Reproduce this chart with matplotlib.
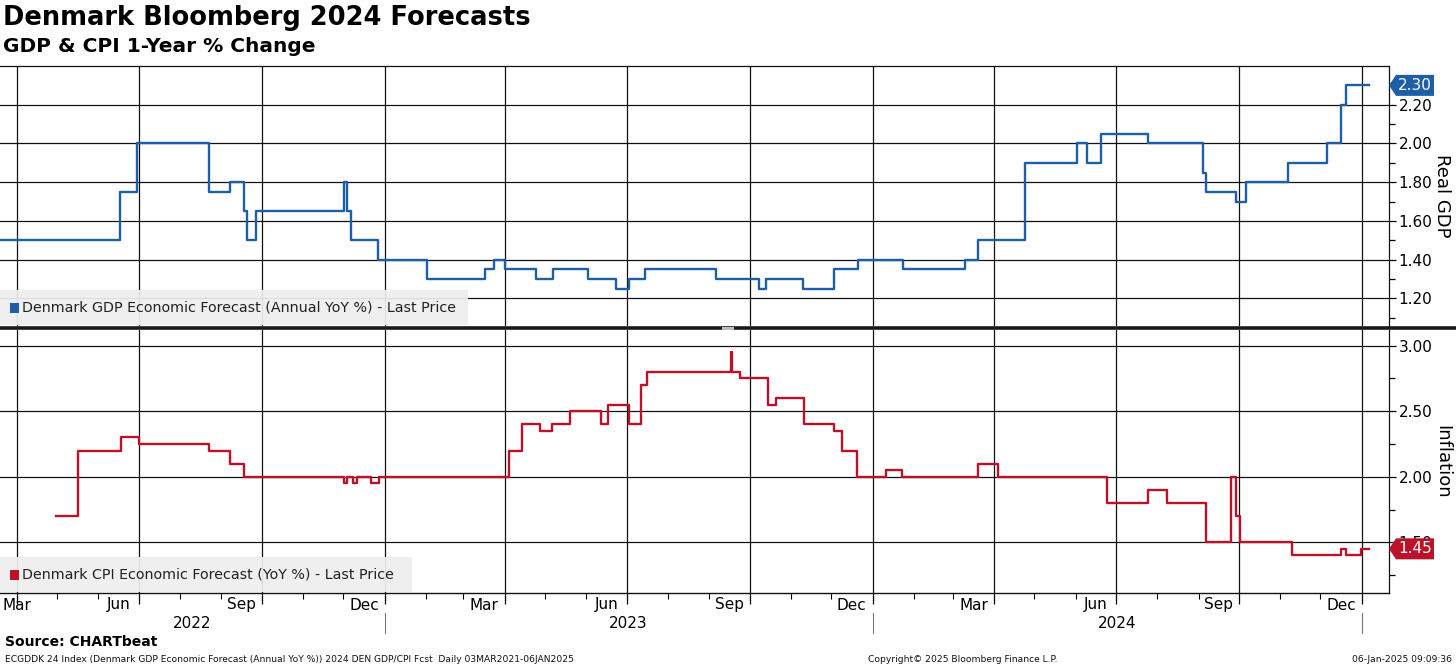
import matplotlib
matplotlib.use('Agg')
import matplotlib.pyplot as plt
import matplotlib.dates as mdates
import pandas as pd
from matplotlib.lines import Line2D
from matplotlib.patches import Rectangle, Polygon

# ---------------- data ----------------
gdp_dates = ['2022-03-01', '2022-06-17', '2022-06-30', '2022-08-23', '2022-09-07', '2022-09-18',
             '2022-09-20', '2022-09-27', '2022-12-02', '2022-12-04', '2022-12-07', '2022-12-27',
             '2023-02-02', '2023-03-17', '2023-03-24', '2023-04-01', '2023-04-24', '2023-05-07',
             '2023-06-02', '2023-06-23', '2023-07-03', '2023-07-15', '2023-09-06', '2023-10-08',
             '2023-10-13', '2023-11-10', '2023-12-03', '2023-12-21', '2024-01-24', '2024-03-10',
             '2024-03-20', '2024-04-24', '2024-06-02', '2024-06-09', '2024-06-20', '2024-07-25',
             '2024-09-04', '2024-09-06', '2024-09-29', '2024-10-06', '2024-11-07', '2024-12-06',
             '2024-12-16', '2024-12-20', '2025-01-06']
gdp_values = [1.50, 1.75, 2.00, 1.75, 1.80, 1.65,
              1.50, 1.65, 1.80, 1.65, 1.50, 1.40,
              1.30, 1.35, 1.40, 1.35, 1.30, 1.35,
              1.30, 1.25, 1.30, 1.35, 1.30, 1.25,
              1.30, 1.25, 1.35, 1.40, 1.35, 1.40,
              1.50, 1.90, 2.00, 1.90, 2.05, 2.00,
              1.85, 1.75, 1.70, 1.80, 1.90, 2.00,
              2.20, 2.30, 2.30]

cpi_dates = ['2022-04-30', '2022-05-17', '2022-06-18', '2022-07-01', '2022-08-23', '2022-09-07',
             '2022-09-18', '2022-12-02', '2022-12-04', '2022-12-08', '2022-12-11', '2022-12-22',
             '2022-12-28', '2023-04-04', '2023-04-14', '2023-04-27', '2023-05-06', '2023-05-20',
             '2023-06-12', '2023-06-17', '2023-07-03', '2023-07-12', '2023-07-16', '2023-09-17',
             '2023-09-18', '2023-09-24', '2023-10-15', '2023-10-21', '2023-11-11', '2023-12-03',
             '2023-12-09', '2023-12-20', '2024-01-11', '2024-01-23', '2024-03-20', '2024-04-04',
             '2024-06-24', '2024-07-25', '2024-08-08', '2024-09-06', '2024-09-25', '2024-09-29',
             '2024-10-02', '2024-11-10', '2024-12-16', '2024-12-20', '2024-12-31', '2025-01-06']
cpi_values = [1.70, 2.20, 2.30, 2.25, 2.20, 2.10,
              2.00, 1.95, 2.00, 1.95, 2.00, 1.95,
              2.00, 2.20, 2.40, 2.35, 2.40, 2.50,
              2.40, 2.55, 2.40, 2.70, 2.80, 2.95,
              2.80, 2.75, 2.55, 2.60, 2.40, 2.35,
              2.20, 2.00, 2.05, 2.00, 2.10, 2.00,
              1.80, 1.90, 1.80, 1.50, 2.00, 1.70,
              1.50, 1.40, 1.45, 1.40, 1.45, 1.45]

gdp_ticks = [1.20, 1.40, 1.60, 1.80, 2.00, 2.20]
cpi_ticks = [1.50, 2.00, 2.50, 3.00]
month_label_months = [3, 6, 9, 12]
years = [2022, 2023, 2024]

title = 'Denmark Bloomberg 2024 Forecasts'
subtitle = 'GDP & CPI 1-Year % Change'
gdp_legend = 'Denmark GDP Economic Forecast (Annual YoY %) - Last Price'
cpi_legend = 'Denmark CPI Economic Forecast (YoY %) - Last Price'
source = 'Source: CHARTbeat'
footer_left = 'ECGDDK 24 Index (Denmark GDP Economic Forecast (Annual YoY %)) 2024 DEN GDP/CPI Fcst  Daily 03MAR2021-06JAN2025'
footer_mid = 'Copyright\u00a9 2025 Bloomberg Finance L.P.'
footer_right = '06-Jan-2025 09:09:36'

BLUE = '#1d5ea6'
RED = '#bc1229'

# ---------------- layout ----------------
W, H = 1456, 666
plt.rcParams['font.family'] = ['DejaVu Sans']
fig = plt.figure(figsize=(W / 100, H / 100), dpi=100)


def fx(px):
    return px / W


def fy(py):
    return 1 - py / H


AX_R = 1389
ax1 = fig.add_axes([0, fy(326), fx(AX_R), fy(66) - fy(326)])
ax2 = fig.add_axes([0, fy(593), fx(AX_R), fy(330) - fy(593)], sharex=ax1)

xmin = pd.Timestamp('2022-03-19 08:00')
xmax = pd.Timestamp('2025-01-21 06:00')

gd = pd.to_datetime(gdp_dates)
cd = pd.to_datetime(cpi_dates)

ax1.plot(gd, gdp_values, drawstyle='steps-post', color=BLUE, lw=1.7, zorder=3)
ax2.plot(cd, cpi_values, drawstyle='steps-post', color=RED, lw=1.7, zorder=3)

ax1.set_xlim(xmin, xmax)
ax1.set_ylim(1.058, 2.40)
ax2.set_ylim(1.113, 3.12)

for ax in (ax1, ax2):
    ax.xaxis.set_major_locator(mdates.MonthLocator(bymonth=[1, 4, 7, 10]))
    ax.xaxis.set_minor_locator(mdates.MonthLocator())
    ax.grid(True, which='major', axis='both', color='#111111', lw=0.9, zorder=1)
    ax.yaxis.tick_right()
    ax.tick_params(axis='y', which='both', direction='out', right=True, left=False,
                   labelsize=11, pad=2, width=0.9)
    ax.tick_params(axis='y', which='major', length=5)
    ax.tick_params(axis='y', which='minor', length=4)
    ax.spines['left'].set_visible(False)
    ax.spines['right'].set_color('#111111')
    ax.spines['right'].set_linewidth(0.9)
    ax.set_facecolor('white')

ax1.set_yticks(gdp_ticks)
ax1.set_yticklabels([f'{v:.2f}' for v in gdp_ticks])
ax1.set_yticks([v + 0.10 for v in gdp_ticks] + [gdp_ticks[0] - 0.10], minor=True)
ax2.set_yticks(cpi_ticks)
ax2.set_yticklabels([f'{v:.2f}' for v in cpi_ticks])
ax2.set_yticks([v - 0.25 for v in cpi_ticks], minor=True)

ax1.spines['top'].set_color('#111111')
ax1.spines['top'].set_linewidth(0.9)
ax1.spines['bottom'].set_visible(False)
ax2.spines['top'].set_visible(False)
ax2.spines['bottom'].set_color('#111111')
ax2.spines['bottom'].set_linewidth(1.0)

ax1.tick_params(axis='x', which='both', bottom=False, labelbottom=False)
ax2.tick_params(axis='x', which='major', direction='out', length=8, width=0.9,
                labelbottom=False)
ax2.tick_params(axis='x', which='minor', direction='out', length=4, width=0.8)

# right axis titles
rx = 1433 / AX_R
ax1.text(rx, 0.5, 'Real GDP', transform=ax1.transAxes, rotation=-90,
         ha='left', va='center', fontsize=13)
ax2.text(rx, 0.5, 'Inflation', transform=ax2.transAxes, rotation=-90,
         ha='left', va='center', fontsize=13)

# month labels (centered on month)
xform = ax2.get_xaxis_transform()
for period in pd.period_range('2022-03', '2024-12', freq='M'):
    if period.month not in month_label_months:
        continue
    start = period.start_time
    end = (period + 1).start_time
    mid = start + (end - start) / 2
    if mid < xmin + pd.Timedelta(days=8):
        ax2.annotate(period.strftime('%b'), xy=(0, 0), xycoords='axes fraction',
                     xytext=(3, -12), textcoords='offset pixels',
                     ha='left', va='center', fontsize=11, annotation_clip=False)
    else:
        ax2.annotate(period.strftime('%b'), xy=(mdates.date2num(mid), 0), xycoords=xform,
                     xytext=(0, -12), textcoords='offset pixels',
                     ha='center', va='center', fontsize=11, annotation_clip=False)

# year labels and separators
for yr in years:
    ys = max(pd.Timestamp(f'{yr}-01-01'), xmin)
    ye = min(pd.Timestamp(f'{yr + 1}-01-01'), xmax)
    mid = ys + (ye - ys) / 2
    ax2.annotate(str(yr), xy=(mdates.date2num(mid), 0), xycoords=xform, xytext=(0, -30),
                 textcoords='offset pixels', ha='center', va='center', fontsize=11,
                 annotation_clip=False)
    sep = mdates.date2num(pd.Timestamp(f'{yr + 1}-01-01'))
    ax2.add_line(Line2D([sep, sep], [-20 / 263, -40 / 263], transform=xform,
                        color='#777777', lw=0.8, clip_on=False))

# divider between panels
fig.add_artist(Line2D([0, 1], [fy(328), fy(328)], transform=fig.transFigure,
                      color='#1a1a1a', lw=2.6, zorder=6))
fig.add_artist(Rectangle((fx(722), fy(329.5)), fx(12), 3 / H, transform=fig.transFigure,
                         fc='#bdbdbd', ec='none', zorder=7))


# legend boxes
def legend_box(x0, x1, y0, y1, color, text):
    fig.add_artist(Rectangle((fx(x0), fy(y1)), fx(x1 - x0), (y1 - y0) / H,
                             transform=fig.transFigure, fc='#eeeeee', ec='none',
                             alpha=0.93, zorder=5))
    yc = (y0 + y1) / 2
    fig.add_artist(Rectangle((fx(10), fy(yc + 5)), fx(9), 10 / H,
                             transform=fig.transFigure, fc=color, ec='none', zorder=6))
    fig.text(fx(22), fy(yc), text, ha='left', va='center', fontsize=10.3,
             color='#222222', zorder=6)


legend_box(0, 468, 290, 325, BLUE, gdp_legend)
legend_box(0, 412, 557, 592, RED, cpi_legend)

# value tags
fig.canvas.draw()


def value_tag(ax, val, color):
    ydisp = ax.transData.transform((0, val))[1]
    yc = H - ydisp  # pixel from top
    x0 = AX_R
    pts = [(x0, yc), (x0 + 7, yc - 10.5), (x0 + 45, yc - 10.5),
           (x0 + 45, yc + 10.5), (x0 + 7, yc + 10.5)]
    fig.add_artist(Polygon([(fx(px), fy(py)) for px, py in pts], closed=True,
                           transform=fig.transFigure, fc=color, ec='none', zorder=8))
    fig.text(fx(x0 + 26), fy(yc), f'{val:.2f}', ha='center', va='center',
             fontsize=11, color='white', zorder=9)


value_tag(ax1, gdp_values[-1], BLUE)
value_tag(ax2, cpi_values[-1], RED)

# titles
fig.text(fx(3), fy(18), title, ha='left', va='center', fontsize=18.5,
         fontweight='bold', color='black')
fig.text(fx(3), fy(46), subtitle, ha='left', va='center', fontsize=14.5,
         fontweight='bold', color='black')

# footer
fig.text(fx(5), fy(642), source, ha='left', va='center', fontsize=10,
         fontweight='bold', color='black')
fig.text(fx(5), fy(659), footer_left, ha='left', va='center', fontsize=6.6, color='#111111')
fig.text(fx(868), fy(659), footer_mid, ha='left', va='center', fontsize=6.6, color='#111111')
fig.text(fx(1452), fy(659), footer_right, ha='right', va='center', fontsize=6.6,
         color='#111111')

fig.savefig('out.png', dpi=100)
